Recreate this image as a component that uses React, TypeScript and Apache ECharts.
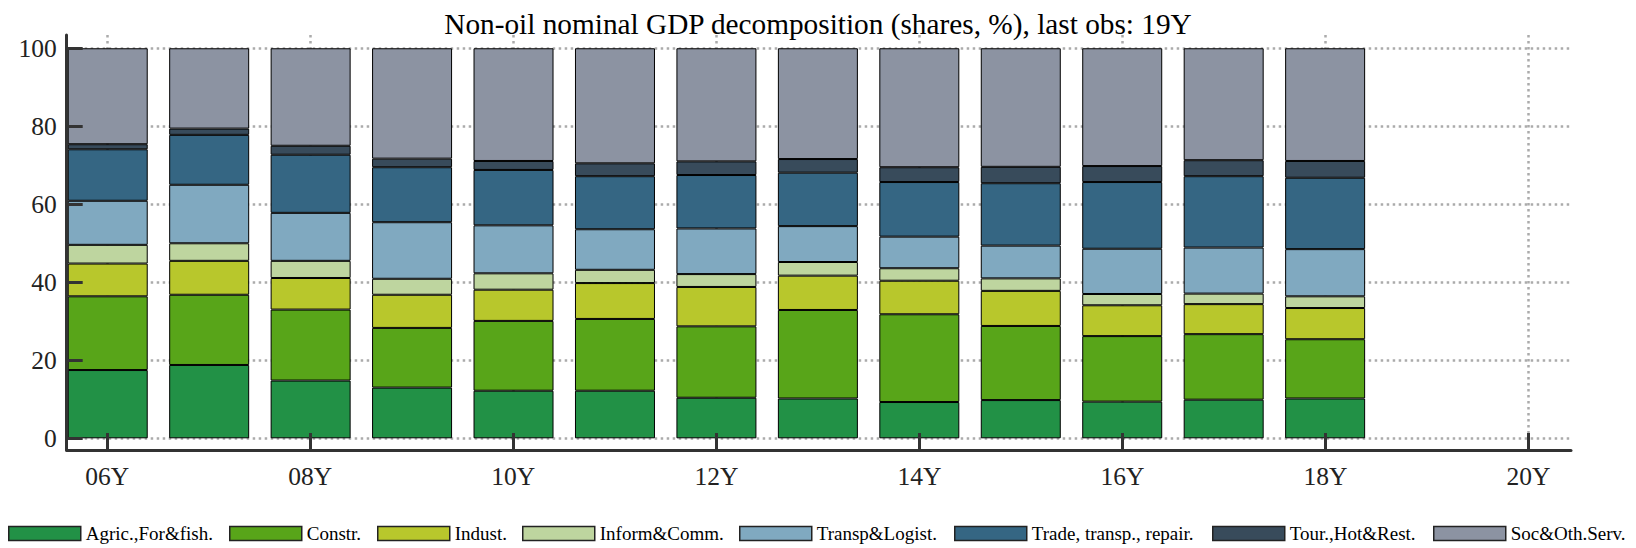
import React, { useEffect, useRef } from "react";
import * as echarts from "echarts";

// ---- data ----
const categories = ["06Y", "07Y", "08Y", "09Y", "10Y", "11Y", "12Y", "13Y", "14Y", "15Y", "16Y", "17Y", "18Y", "19Y", "20Y"];
const xTickYears = [2006, 2008, 2010, 2012, 2014, 2016, 2018, 2020];
const yTicks = [0, 20, 40, 60, 80, 100];

const seriesNames = [
  "Agric.,For&fish.",
  "Constr.",
  "Indust.",
  "Inform&Comm.",
  "Transp&Logist.",
  "Trade, transp., repair.",
  "Tour.,Hot&Rest.",
  "Soc&Oth.Serv.",
];

const agric = [17.5, 18.8, 14.8, 13.0, 12.2, 12.2, 10.4, 10.2, 9.3, 9.8, 9.4, 9.9, 10.2];
const constr = [18.9, 18.0, 18.2, 15.3, 17.9, 18.4, 18.3, 22.7, 22.5, 19.0, 16.8, 16.8, 15.2];
const indust = [8.4, 8.7, 8.1, 8.5, 8.0, 9.2, 10.1, 8.8, 8.6, 9.0, 7.9, 7.7, 8.0];
const inform = [4.8, 4.5, 4.4, 4.1, 4.2, 3.4, 3.3, 3.5, 3.2, 3.2, 2.9, 2.7, 3.0];
const transp = [11.3, 15.0, 12.3, 14.5, 12.3, 10.4, 11.7, 9.2, 8.1, 8.4, 11.6, 11.8, 12.1];
const trade = [13.2, 12.8, 14.9, 14.1, 14.2, 13.6, 13.7, 13.7, 14.0, 16.0, 17.1, 18.3, 18.3];
const tour = [1.3, 1.6, 2.3, 2.2, 2.3, 3.3, 3.5, 3.5, 3.8, 4.2, 4.1, 4.1, 4.3];
const soc = [24.6, 20.6, 25.0, 28.3, 28.9, 29.5, 29.0, 28.4, 30.5, 30.4, 30.2, 28.7, 28.9];

const seriesValues = [agric, constr, indust, inform, transp, trade, tour, soc];
const seriesColors = ["#229146", "#58a519", "#b8c72c", "#bed59f", "#80a9c0", "#356683", "#384b5b", "#8c93a2"];

const titleText = "Non-oil nominal GDP decomposition (shares, %), last obs: 19Y";

// ---- layout ----
const FONT = "Liberation Serif";
const legendLefts = [8, 229, 377, 522, 739, 954, 1212, 1433];
const Y_MIN = -3;
const Y_MAX = 103.4;
const X_MIN = 2005.6;
const X_MAX = 2020.42;
const GRID_TOP = 35;
const GRID_BOTTOM = 98;

export default function App() {
  const ref = useRef<HTMLDivElement>(null);

  useEffect(() => {
    if (!ref.current) return;
    const chart = echarts.init(ref.current, undefined, { renderer: "svg" });

    const gridLine = { show: true, lineStyle: { color: "#ababab", width: 2.5, type: [2.5, 3.5] as any } };

    const option: any = {
      animation: false,
      backgroundColor: "#ffffff",
      textStyle: { fontFamily: FONT },
      title: {
        text: titleText,
        left: "center",
        top: 4,
        textStyle: { fontFamily: FONT, fontSize: 29.3, fontWeight: "normal", color: "#000" },
      },
      grid: [
        { left: 57, right: 57.25, top: GRID_TOP, bottom: GRID_BOTTOM, containLabel: false },
        { left: 66.7, right: 65, top: GRID_TOP, bottom: GRID_BOTTOM, containLabel: false },
        { left: 66.7, right: 65, top: GRID_TOP, bottom: GRID_BOTTOM, containLabel: false },
      ],
      xAxis: [
        {
          type: "category",
          gridIndex: 0,
          data: categories,
          boundaryGap: true,
          axisLine: { show: false },
          axisTick: { show: false },
          axisLabel: { show: false },
          splitLine: { show: false },
        },
        {
          type: "value",
          gridIndex: 1,
          min: X_MIN,
          max: X_MAX,
          splitNumber: 7,
          axisLine: { show: false },
          axisTick: { show: false, customValues: xTickYears },
          axisLabel: { show: false, customValues: xTickYears },
          splitLine: gridLine,
          z: 0,
        },
        {
          type: "value",
          gridIndex: 2,
          min: X_MIN,
          max: X_MAX,
          z: 10,
          axisLine: { show: true, onZero: false, lineStyle: { color: "#333", width: 3 } },
          axisTick: { show: true, inside: true, length: 17, customValues: xTickYears, lineStyle: { color: "#333", width: 3 } },
          axisLabel: {
            show: true,
            customValues: xTickYears,
            margin: 13,
            fontFamily: FONT,
            fontSize: 25.5,
            color: "#222",
            formatter: (v: number) => String(Math.round(v) % 100).padStart(2, "0") + "Y",
          },
          splitLine: { show: false },
        },
      ],
      yAxis: [
        {
          type: "value",
          gridIndex: 0,
          min: Y_MIN,
          max: Y_MAX,
          axisLine: { show: false },
          axisTick: { show: false },
          axisLabel: { show: false },
          splitLine: { show: false },
        },
        {
          type: "value",
          gridIndex: 1,
          min: Y_MIN,
          max: Y_MAX,
          axisLine: { show: false },
          axisTick: { show: false, customValues: yTicks },
          axisLabel: { show: false, customValues: yTicks },
          splitLine: gridLine,
          z: 0,
        },
        {
          type: "value",
          gridIndex: 2,
          min: Y_MIN,
          max: Y_MAX,
          z: 10,
          axisLine: { show: true, onZero: false, lineStyle: { color: "#333", width: 3 } },
          axisTick: { show: true, inside: true, length: 16, customValues: yTicks, lineStyle: { color: "#333", width: 3 } },
          axisLabel: {
            show: true,
            customValues: yTicks,
            margin: 10,
            fontFamily: FONT,
            fontSize: 25.5,
            color: "#222",
          },
          splitLine: { show: false },
        },
      ],
      legend: seriesNames.map((name, i) => ({
        data: [name],
        left: legendLefts[i],
        top: 524,
        padding: 0,
        itemGap: 0,
        itemWidth: 72,
        itemHeight: 14,
        icon: "rect",
        selectedMode: false,
        itemStyle: { borderColor: "#222", borderWidth: 1.5 },
        textStyle: { fontFamily: FONT, fontSize: 19, color: "#000" },
      })),
      series: seriesNames.map((name, i) => ({
        name,
        type: "bar",
        stack: "total",
        xAxisIndex: 0,
        yAxisIndex: 0,
        barWidth: 80,
        data: seriesValues[i],
        itemStyle: { color: seriesColors[i], borderColor: "#000", borderWidth: 1 },
        emphasis: { disabled: true },
      })),
    };

    chart.setOption(option);
    return () => chart.dispose();
  }, []);

  return (
    <div
      ref={ref}
      style={{ position: "fixed", left: 0, top: 0, width: 1636, height: 548, background: "#fff" }}
    />
  );
}
